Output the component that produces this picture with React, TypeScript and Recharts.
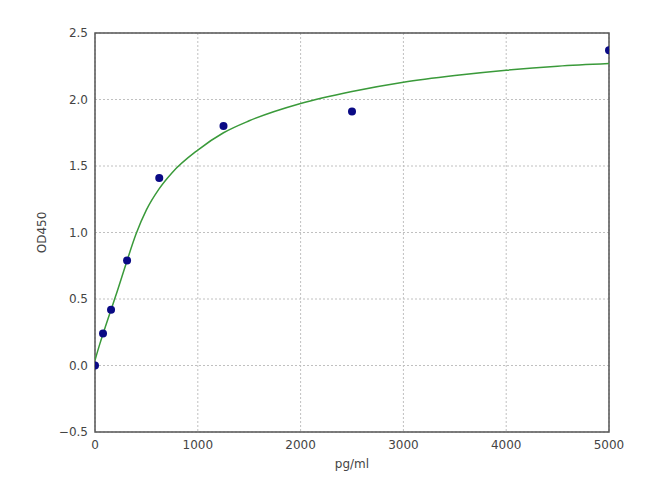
import React from 'react';
import { ComposedChart, Line, Scatter, XAxis, YAxis, CartesianGrid, ReferenceArea } from 'recharts';

const concentrations = [0, 78, 156, 312, 625, 1250, 2500, 5000];
const odValues = [0.0, 0.24, 0.42, 0.79, 1.41, 1.8, 1.91, 2.37];

const curveX = [0, 50, 100, 156, 200, 300, 400, 500, 625, 750, 1000, 1250, 1500, 2000, 2500, 3000, 3500, 4000, 4500, 5000];
const curveY = [0.04, 0.17, 0.29, 0.42, 0.52, 0.76, 0.99, 1.17, 1.33, 1.45, 1.62, 1.75, 1.84, 1.97, 2.06, 2.13, 2.18, 2.22, 2.25, 2.27];

const xTicks = [0, 1000, 2000, 3000, 4000, 5000];
const yTicks = [-0.5, 0, 0.5, 1.0, 1.5, 2.0, 2.5];

const points = concentrations.map((x, i) => ({ x, y: odValues[i] }));
const curve = curveX.map((x, i) => ({ x, y: curveY[i] }));

const fmtY = (v: number) => (v < 0 ? '\u2212' + Math.abs(v).toFixed(1) : v.toFixed(1));

const tickStyle = { fontFamily: 'DejaVu Sans', fontSize: 12, fill: '#444' };

export default function App() {
  return (
    <div style={{ position: 'absolute', left: 0, top: 0, width: 650, height: 490, background: '#fff' }}>
      <ComposedChart width={650} height={490} margin={{ top: 33, right: 41, bottom: 0, left: 0 }}>
        <CartesianGrid stroke="#c0c0c0" strokeDasharray="2 2" />
        <XAxis
          type="number"
          dataKey="x"
          domain={[0, 5000]}
          ticks={xTicks}
          height={58}
          tickLine={false}
          axisLine={false}
          tickSize={4}
          tickMargin={4}
          tick={tickStyle}
          allowDataOverflow
          label={{ value: 'pg/ml', position: 'insideBottom', offset: 22, style: { fontFamily: 'DejaVu Sans', fontSize: 12, fill: '#444' } }}
        />
        <YAxis
          type="number"
          dataKey="y"
          domain={[-0.5, 2.5]}
          ticks={yTicks}
          width={95}
          tickLine={false}
          axisLine={false}
          tickSize={4}
          tickMargin={3}
          tick={tickStyle}
          tickFormatter={fmtY}
          allowDataOverflow
          label={{ value: 'OD450', angle: -90, position: 'center', dx: -6, style: { fontFamily: 'DejaVu Sans', fontSize: 12, fill: '#444' } }}
        />
        <ReferenceArea x1={0} x2={5000} y1={-0.5} y2={2.5} stroke="#555" strokeWidth={1.5} fill="none" fillOpacity={0} ifOverflow="visible" />
        <Line data={curve} dataKey="y" type="monotone" stroke="#3a9a3a" strokeWidth={1.5} dot={false} isAnimationActive={false} />
        <Scatter data={points} dataKey="y" fill="#0a0a85" shape={(p: any) => <circle cx={p.cx} cy={p.cy} r={4} fill="#0a0a85" />} isAnimationActive={false} />
      </ComposedChart>
    </div>
  );
}
